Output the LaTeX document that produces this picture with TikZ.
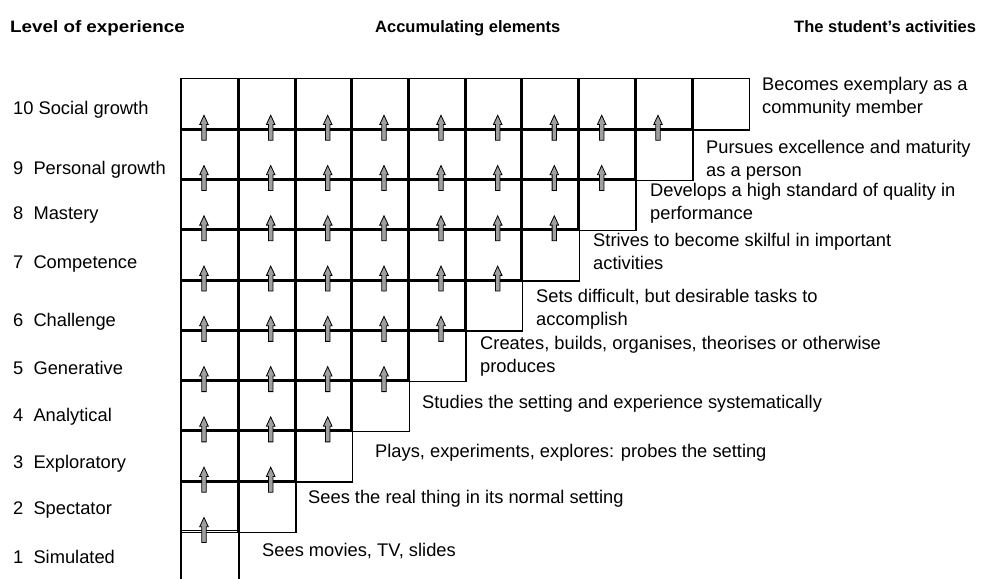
\documentclass[tikz,border=0pt]{standalone}
\usepackage{fontspec}
\setmainfont{Liberation Sans}
\usetikzlibrary{positioning}

\begin{document}
\begin{tikzpicture}[x=1pt, y=-1pt,
        cell/.style={draw, line width=1.5pt},
        uparr/.style={draw=black, fill=gray!75, line width=0.8pt, line join=miter},
        level/.style={anchor=base west, inner sep=0pt, font=\fontsize{18.3}{23}\selectfont},
        activity/.style={anchor=base west, inner sep=0pt, align=left, font=\fontsize{18.3}{23}\selectfont},
        head/.style={anchor=base west, inner sep=0pt, font=\fontsize{16.5}{20}\selectfont\bfseries}
    ]
        \useasboundingbox (0,0) rectangle (982,578);

        % Column headings
        \node[head] (hlevel) at (10, 33)  {\scalebox{1.14}[1]{Level of experience}};
        \node[head] (helem)  at (375, 33) {Accumulating elements};
        \node[head] (hact)   at (794, 33) {The student’s activities};

        % Staircase of boxes (row r has r boxes)
        \foreach \r in {2,...,10} {
            \foreach \c in {1,...,\r} {
                \draw[cell] (181+\c*56.7-56.7, 78.3+100.54*5-50.27*\r) rectangle ++(58.2, 51.8);
            }
        }
        % bottom box, open below
        \draw[cell] (181, 585) -- (181, 530.7) -- (239.2, 530.7) -- (239.2, 585);

        % Arrows carried up from each row to the next
        \foreach \ax [count=\c] in {204, 270.7, 327.7, 384, 441, 497.7, 554.3, 601.7, 658} {
            \foreach \r in {\c,...,9} {
                \pgfmathsetmacro\yb{78.3+(10-\r)*50.27}
                \filldraw[uparr] (\ax-2.2, \yb+11.7) -- (\ax-2.2, \yb-4) -- (\ax-4.3, \yb-4)
                    -- (\ax, \yb-13.3) -- (\ax+4.3, \yb-4) -- (\ax+2.2, \yb-4)
                    -- (\ax+2.2, \yb+11.7) -- cycle;
            }
        }

        % Levels of experience
        \node[level] (lv10) at (13, 114.5) {10 Social growth};
        \node[level] (lv9)  at (13, 174.5) {9~~Personal growth};
        \node[level] (lv8)  at (13, 219.5) {8~~Mastery};
        \node[level] (lv7)  at (13, 268.5) {7~~Competence};
        \node[level] (lv6)  at (13, 326.5) {6~~Challenge};
        \node[level] (lv5)  at (13, 374.5) {5~~Generative};
        \node[level] (lv4)  at (13, 421.5) {4~~Analytical};
        \node[level] (lv3)  at (13, 468.5) {3~~Exploratory};
        \node[level] (lv2)  at (13, 514.5) {2~~Spectator};
        \node[level] (lv1)  at (13, 563.5) {1~~Simulated};

        % The student's activities (base = last line)
        \node[activity] (ac10) at (762, 113.5) {Becomes exemplary as a\\community member};
        \node[activity] (ac9)  at (706, 176.5) {Pursues excellence and maturity\\as a person};
        \node[activity] (ac8)  at (650, 219.5) {Develops a high standard of quality in\\performance};
        \node[activity] (ac7)  at (593, 269.5) {Strives to become skilful in important\\activities};
        \node[activity] (ac6)  at (536, 325.5) {Sets difficult, but desirable tasks to\\accomplish};
        \node[activity] (ac5)  at (480, 372.5) {Creates, builds, organises, theorises or otherwise\\produces};
        \node[activity] (ac4)  at (422, 408.5) {Studies the setting and experience systematically};
        \node[activity] (ac3)  at (375, 457.5) {Plays, experiments, explores: probes the setting};
        \node[activity] (ac2)  at (308, 503.5) {Sees the real thing in its normal setting};
        \node[activity] (ac1)  at (262, 556.5) {Sees movies, TV, slides};

    \end{tikzpicture}
\end{document}
